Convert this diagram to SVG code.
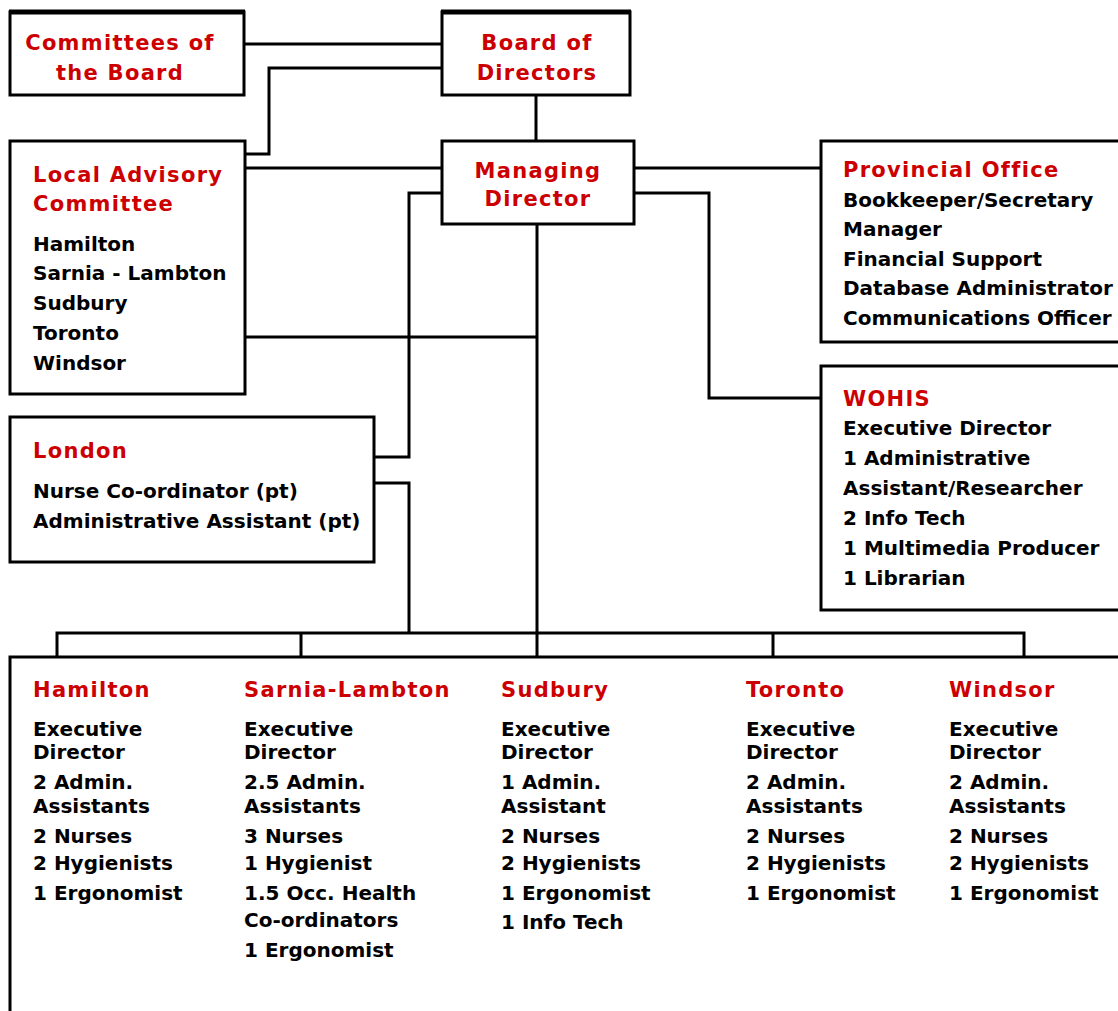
<svg xmlns="http://www.w3.org/2000/svg" width="1118" height="1011" viewBox="0 0 1118 1011">
<style>
text{font-family:"DejaVu Sans","Liberation Sans",sans-serif;font-weight:bold;font-size:20px;fill:#000}
.t{fill:#CC0000;font-size:21px;letter-spacing:1.3px}
.c{text-anchor:middle}
.box{fill:#fff;stroke:#000;stroke-width:3}
.ln{fill:none;stroke:#000;stroke-width:3}
</style>
<rect width="1118" height="1011" fill="#fff"/>
<g id="connectors" class="ln">
<path d="M245 44H442"/>
<path d="M442 68H269V154H245"/>
<path d="M536 95V141"/>
<path d="M245 168H442"/>
<path d="M442 193H409V457H374"/>
<path d="M374 483H409V633"/>
<path d="M245 337H537"/>
<path d="M537 224V657"/>
<path d="M634 168H821"/>
<path d="M634 193H709V398H821"/>
<path d="M57 657V633H1024V657"/>
<path d="M301 633V657M773 633V657"/>
</g>
<g id="committees">
<rect class="box" x="10" y="12" width="234" height="83"/>
<path d="M9 12H245" stroke="#000" stroke-width="5"/>
<text class="t c" x="120" y="50">Committees of</text>
<text class="t c" x="120" y="80">the Board</text>
</g>
<g id="board">
<rect class="box" x="442" y="12" width="188" height="83"/>
<path d="M441 12H631" stroke="#000" stroke-width="5"/>
<text class="t c" x="537" y="50">Board of</text>
<text class="t c" x="537" y="80">Directors</text>
</g>
<g id="managing">
<rect class="box" x="442" y="141" width="192" height="83"/>
<text class="t c" x="538" y="178">Managing</text>
<text class="t c" x="538" y="206">Director</text>
</g>
<g id="local-advisory">
<rect class="box" x="10" y="141" width="235" height="253"/>
<text class="t" x="33" y="182">Local Advisory</text>
<text class="t" x="33" y="211">Committee</text>
<text x="33" y="251">Hamilton</text>
<text x="33" y="280">Sarnia - Lambton</text>
<text x="33" y="310">Sudbury</text>
<text x="33" y="340">Toronto</text>
<text x="33" y="370">Windsor</text>
</g>
<g id="london">
<rect class="box" x="10" y="417" width="364" height="145"/>
<text class="t" x="33" y="458">London</text>
<text x="33" y="498">Nurse Co-ordinator (pt)</text>
<text x="33" y="528">Administrative Assistant (pt)</text>
</g>
<g id="provincial">
<rect class="box" x="821" y="141" width="310" height="201"/>
<text class="t" x="843" y="177">Provincial Office</text>
<text x="843" y="207">Bookkeeper/Secretary</text>
<text x="843" y="236">Manager</text>
<text x="843" y="266">Financial Support</text>
<text x="843" y="295">Database Administrator</text>
<text x="843" y="325">Communications Officer</text>
</g>
<g id="wohis">
<rect class="box" x="821" y="366" width="310" height="244"/>
<text class="t" x="843" y="406">WOHIS</text>
<text x="843" y="435">Executive Director</text>
<text x="843" y="465">1 Administrative</text>
<text x="843" y="495">Assistant/Researcher</text>
<text x="843" y="525">2 Info Tech</text>
<text x="843" y="555">1 Multimedia Producer</text>
<text x="843" y="585">1 Librarian</text>
</g>
<g id="regional">
<path class="ln" d="M10 1015V657H1125"/>
<g id="hamilton">
<text class="t" x="33" y="697">Hamilton</text>
<text x="33" y="736">Executive</text>
<text x="33" y="759">Director</text>
<text x="33" y="789">2 Admin.</text>
<text x="33" y="813">Assistants</text>
<text x="33" y="843">2 Nurses</text>
<text x="33" y="870">2 Hygienists</text>
<text x="33" y="900">1 Ergonomist</text>
</g>
<g id="sarnia">
<text class="t" x="244" y="697">Sarnia-Lambton</text>
<text x="244" y="736">Executive</text>
<text x="244" y="759">Director</text>
<text x="244" y="789">2.5 Admin.</text>
<text x="244" y="813">Assistants</text>
<text x="244" y="843">3 Nurses</text>
<text x="244" y="870">1 Hygienist</text>
<text x="244" y="900">1.5 Occ. Health</text>
<text x="244" y="927">Co-ordinators</text>
<text x="244" y="957">1 Ergonomist</text>
</g>
<g id="sudbury">
<text class="t" x="501" y="697">Sudbury</text>
<text x="501" y="736">Executive</text>
<text x="501" y="759">Director</text>
<text x="501" y="789">1 Admin.</text>
<text x="501" y="813">Assistant</text>
<text x="501" y="843">2 Nurses</text>
<text x="501" y="870">2 Hygienists</text>
<text x="501" y="900">1 Ergonomist</text>
<text x="501" y="929">1 Info Tech</text>
</g>
<g id="toronto">
<text class="t" x="746" y="697">Toronto</text>
<text x="746" y="736">Executive</text>
<text x="746" y="759">Director</text>
<text x="746" y="789">2 Admin.</text>
<text x="746" y="813">Assistants</text>
<text x="746" y="843">2 Nurses</text>
<text x="746" y="870">2 Hygienists</text>
<text x="746" y="900">1 Ergonomist</text>
</g>
<g id="windsor">
<text class="t" x="949" y="697">Windsor</text>
<text x="949" y="736">Executive</text>
<text x="949" y="759">Director</text>
<text x="949" y="789">2 Admin.</text>
<text x="949" y="813">Assistants</text>
<text x="949" y="843">2 Nurses</text>
<text x="949" y="870">2 Hygienists</text>
<text x="949" y="900">1 Ergonomist</text>
</g>
</g>
</svg>
